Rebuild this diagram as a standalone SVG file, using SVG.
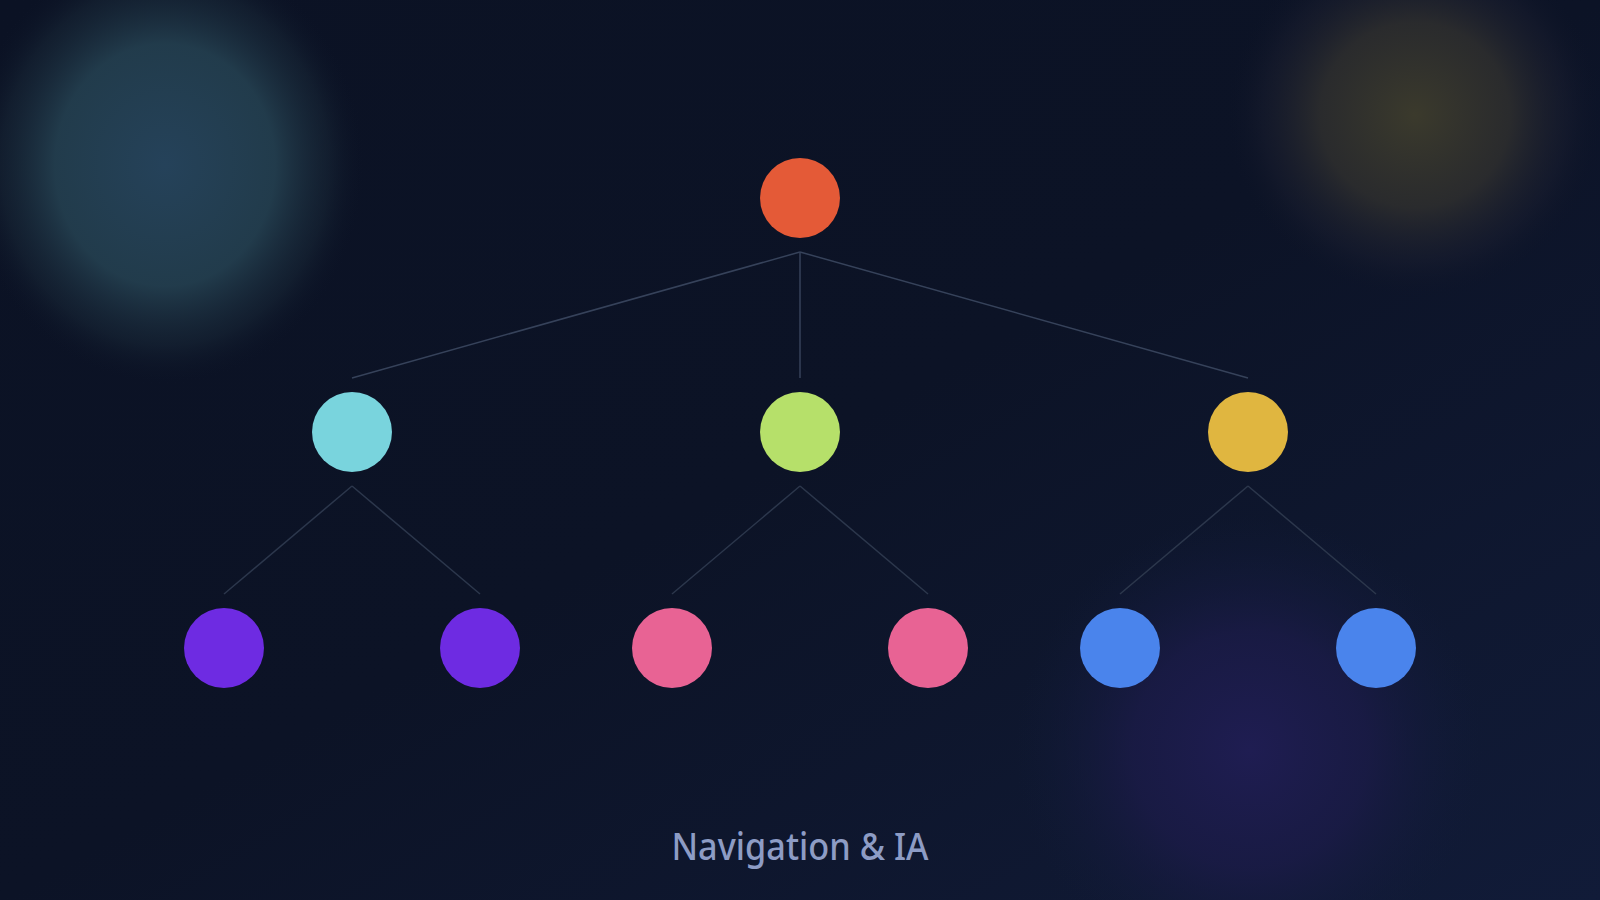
<svg xmlns="http://www.w3.org/2000/svg" width="1600" height="900" viewBox="0 0 1600 900">
  <defs>
    <linearGradient id="bg" x1="0" y1="0" x2="1" y2="1">
      <stop offset="0" stop-color="#0b1224"/>
      <stop offset="0.5" stop-color="#0c1326"/>
      <stop offset="1" stop-color="#111b38"/>
    </linearGradient>
    <radialGradient id="teal" cx="0.5" cy="0.5" r="0.5">
      <stop offset="0" stop-color="#25425a" stop-opacity="1"/>
      <stop offset="0.55" stop-color="#244050" stop-opacity="0.9"/>
      <stop offset="0.82" stop-color="#1b2c3b" stop-opacity="0.45"/>
      <stop offset="1" stop-color="#0c1326" stop-opacity="0"/>
    </radialGradient>
    <radialGradient id="gold" cx="0.5" cy="0.5" r="0.5">
      <stop offset="0" stop-color="#3b3a2c" stop-opacity="1"/>
      <stop offset="0.5" stop-color="#2f2f2e" stop-opacity="0.85"/>
      <stop offset="0.8" stop-color="#1d2030" stop-opacity="0.4"/>
      <stop offset="1" stop-color="#0c1326" stop-opacity="0"/>
    </radialGradient>
    <radialGradient id="violet" cx="0.5" cy="0.5" r="0.5">
      <stop offset="0" stop-color="#1f1d52" stop-opacity="1"/>
      <stop offset="0.5" stop-color="#1b1b48" stop-opacity="0.8"/>
      <stop offset="1" stop-color="#111b38" stop-opacity="0"/>
    </radialGradient>
    <style>
      .edge { stroke: #2c374c; stroke-width: 1.5; fill: none; }
      .edge-top { stroke: #36425a; }
      .label { font-family: "Noto Sans", "Liberation Sans", sans-serif; font-size: 38px; font-weight: 500; fill: #8d9cc5; }
    </style>
  </defs>

  <rect x="0" y="0" width="1600" height="900" fill="url(#bg)"/>
  <ellipse cx="165" cy="165" rx="200" ry="220" fill="url(#teal)"/>
  <ellipse cx="1415" cy="115" rx="190" ry="185" fill="url(#gold)"/>
  <ellipse cx="1250" cy="750" rx="235" ry="235" fill="url(#violet)"/>

  <g id="connectors">
    <line class="edge edge-top" x1="800" y1="252" x2="352" y2="378"/>
    <line class="edge edge-top" x1="800" y1="252" x2="800" y2="378"/>
    <line class="edge edge-top" x1="800" y1="252" x2="1248" y2="378"/>
    <line class="edge" x1="352" y1="486" x2="224" y2="594"/>
    <line class="edge" x1="352" y1="486" x2="480" y2="594"/>
    <line class="edge" x1="800" y1="486" x2="672" y2="594"/>
    <line class="edge" x1="800" y1="486" x2="928" y2="594"/>
    <line class="edge" x1="1248" y1="486" x2="1120" y2="594"/>
    <line class="edge" x1="1248" y1="486" x2="1376" y2="594"/>
  </g>

  <g id="root"><circle cx="800" cy="198" r="40" fill="#e45a37"/></g>
  <g id="n-left"><circle cx="352" cy="432" r="40" fill="#79d4dd"/></g>
  <g id="n-mid"><circle cx="800" cy="432" r="40" fill="#b6e06a"/></g>
  <g id="n-right"><circle cx="1248" cy="432" r="40" fill="#e0b640"/></g>
  <g id="leaf-1"><circle cx="224" cy="648" r="40" fill="#6e2be2"/></g>
  <g id="leaf-2"><circle cx="480" cy="648" r="40" fill="#6e2be2"/></g>
  <g id="leaf-3"><circle cx="672" cy="648" r="40" fill="#e86394"/></g>
  <g id="leaf-4"><circle cx="928" cy="648" r="40" fill="#e86394"/></g>
  <g id="leaf-5"><circle cx="1120" cy="648" r="40" fill="#4a84ec"/></g>
  <g id="leaf-6"><circle cx="1376" cy="648" r="40" fill="#4a84ec"/></g>

  <g id="title">
    <text class="label" x="800" y="860" text-anchor="middle" textLength="257" lengthAdjust="spacingAndGlyphs">Navigation &amp; IA</text>
  </g>
</svg>
